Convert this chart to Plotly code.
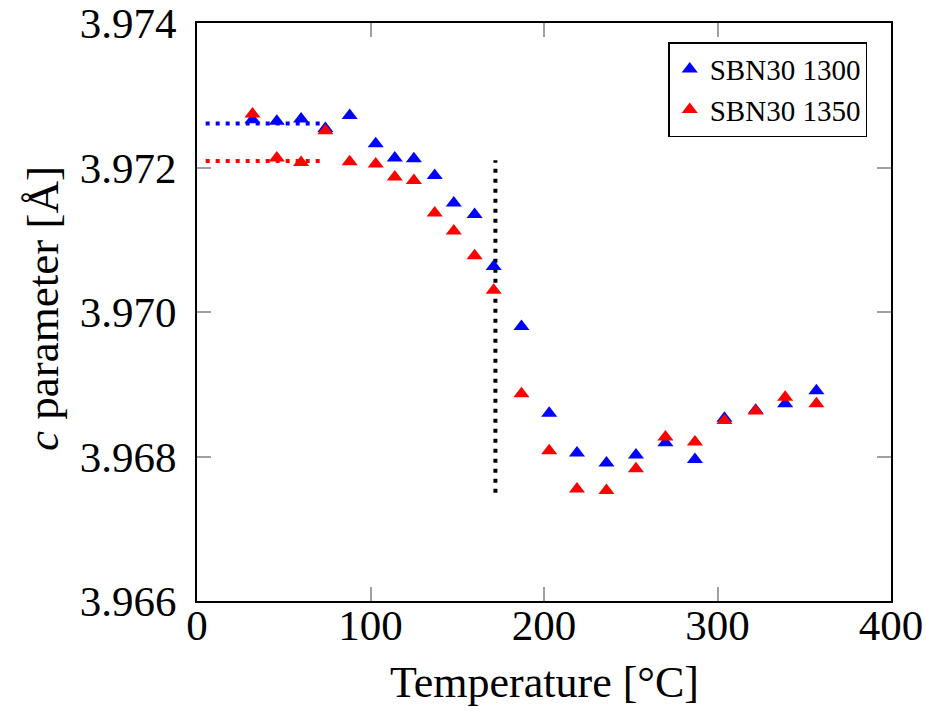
import plotly.graph_objects as go

temps = [32, 46, 60, 74, 88, 103, 114, 125, 137, 148, 160, 171, 187, 203, 219, 236, 253, 270, 287, 304, 322, 339, 357]
sbn1300 = [3.97266, 3.97264, 3.97267, 3.97254, 3.97272, 3.97233, 3.97213, 3.97212, 3.97189, 3.97151, 3.97135, 3.97063,
           3.96980, 3.96860, 3.96805, 3.96791, 3.96802, 3.96819, 3.96796, 3.96853, 3.96864, 3.96873, 3.96891]
sbn1350 = [3.97274, 3.97213, 3.97207, 3.97251, 3.97208, 3.97205, 3.97187, 3.97182, 3.97137, 3.97112, 3.97078, 3.97030,
           3.96887, 3.96808, 3.96755, 3.96753, 3.96783, 3.96827, 3.96820, 3.96850, 3.96863, 3.96882, 3.96873]

blue_avg_x = [5, 72]
blue_avg_y = [3.97261, 3.97261]
red_avg_x = [5, 72]
red_avg_y = [3.97209, 3.97209]
tc_x = [172, 172]
tc_y = [3.9675, 3.9721]

x_ticks = [0, 100, 200, 300, 400]
y_ticks = [3.966, 3.968, 3.970, 3.972, 3.974]

FONT = "Liberation Serif"
DOT = "4px,6px"

fig = go.Figure()
fig.add_trace(go.Scatter(x=blue_avg_x, y=blue_avg_y, mode="lines", showlegend=False,
                         line=dict(color="#0000ff", width=4, dash=DOT)))
fig.add_trace(go.Scatter(x=red_avg_x, y=red_avg_y, mode="lines", showlegend=False,
                         line=dict(color="#ff0000", width=4, dash=DOT)))
fig.add_trace(go.Scatter(x=tc_x, y=tc_y, mode="lines", showlegend=False,
                         line=dict(color="#000000", width=4, dash=DOT)))
fig.add_trace(go.Scatter(x=temps, y=sbn1300, mode="markers", name="SBN30 1300",
                         marker=dict(symbol="triangle-up", size=14, color="#0000ff")))
fig.add_trace(go.Scatter(x=temps, y=sbn1350, mode="markers", name="SBN30 1350",
                         marker=dict(symbol="triangle-up", size=14, color="#ff0000")))

axis_common = dict(showline=True, linecolor="black", linewidth=2, mirror="ticks",
                   ticks="inside", ticklen=14, tickcolor="#a0a0a0", tickwidth=1.5,
                   showgrid=False, zeroline=False, automargin=False,
                   ticklabeloverflow="allow",
                   tickfont=dict(family=FONT, size=43, color="black"))

fig.update_layout(
    width=926, height=711,
    margin=dict(l=197, r=35, t=23, b=110, autoexpand=False),
    paper_bgcolor="white", plot_bgcolor="white",
    font=dict(family=FONT, color="black"),
    xaxis=dict(range=[0, 400], tickvals=x_ticks, ticktext=[str(v) for v in x_ticks],
               ticklabelstandoff=-15, **axis_common),
    yaxis=dict(range=[3.966, 3.9740001], tickvals=y_ticks, ticktext=[f"{v:.3f}" for v in y_ticks],
               ticklabelstandoff=10, **axis_common),
    legend=dict(x=0.679, y=0.967, xanchor="left", yanchor="top",
                bordercolor="black", borderwidth=1.5, bgcolor="white",
                font=dict(family=FONT, size=29, color="black"), itemwidth=30,
                tracegroupgap=0),
    annotations=[
        dict(text="Temperature [°C]", xref="paper", yref="paper", x=0.5, y=-0.141,
             xanchor="center", yanchor="middle", showarrow=False,
             font=dict(family=FONT, size=44, color="black")),
        dict(text="<i>c</i> parameter [Å]", xref="paper", yref="paper", x=-0.222, y=0.507,
             xanchor="center", yanchor="middle", textangle=-90, showarrow=False,
             font=dict(family=FONT, size=45, color="black")),
    ],
)

fig.write_html("out.html", config={"displayModeBar": False},
               post_script="document.body.style.margin='0';")
